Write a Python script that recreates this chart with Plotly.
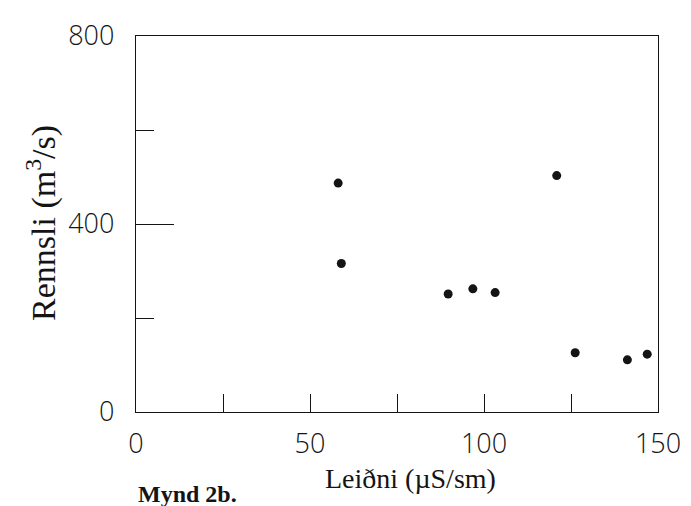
import plotly.graph_objects as go

# Data
leidni = [58.1, 59.0, 89.7, 96.8, 103.2, 120.9, 126.2, 141.2, 146.9]   # µS/sm
rennsli = [487, 316, 251, 262, 254, 503, 126, 111, 123]             # m3/s

x_tickvals = [0, 50, 100, 150]
x_ticktext = ["0", "50", "100", "150"]
y_tickvals = [0, 400, 800]
y_ticktext = ["0", "400", "800"]

x_title = "Leiðni (µS/sm)"
y_title = "Rennsli (m<sup>3</sup>/s)"
caption = "<b>Mynd 2b.</b>"

ink = "#141414"
tick_font = dict(family="Open Sans", size=27, color=ink, weight=300)

W, H = 691, 506
L, R, T, B = 128, 41, 28, 102
pw, ph = W - L - R, H - T - B

fig = go.Figure()
fig.add_trace(go.Scatter(
    x=leidni, y=rennsli, mode="markers",
    marker=dict(color=ink, size=9, line=dict(width=0)),
    showlegend=False,
))

fig.update_layout(
    width=W, height=H,
    margin=dict(l=L, r=R, t=T, b=B, autoexpand=False),
    paper_bgcolor="white", plot_bgcolor="white",
)

fig.update_xaxes(
    range=[0, 150], tickmode="array", tickvals=x_tickvals, ticktext=x_ticktext,
    ticks="inside", ticklen=18, tickwidth=1.2, tickcolor=ink,
    minor=dict(tickmode="array", tickvals=[25, 75, 125], ticks="inside",
               ticklen=18, tickwidth=1.2, tickcolor=ink),
    showline=True, linecolor=ink, linewidth=1.4, mirror=True,
    showgrid=False, zeroline=False, automargin=False,
    tickfont=tick_font, ticklabelstandoff=7,
)
fig.update_yaxes(
    range=[0, 800], tickmode="array", tickvals=y_tickvals, ticktext=y_ticktext,
    ticks="inside", ticklen=38, tickwidth=1.2, tickcolor=ink,
    minor=dict(tickmode="array", tickvals=[200, 600], ticks="inside",
               ticklen=18, tickwidth=1.2, tickcolor=ink),
    showline=True, linecolor=ink, linewidth=1.4, mirror=True,
    showgrid=False, zeroline=False, automargin=False,
    tickfont=tick_font, ticklabelstandoff=15,
)

def px_x(p):
    return (p - L) / pw

def px_y(p):
    return (H - B - p) / ph

# axis titles and caption
fig.add_annotation(
    text=x_title, xref="paper", yref="paper",
    x=px_x(402), y=px_y(470), xanchor="center", yanchor="middle", showarrow=False,
    font=dict(family="Liberation Serif", size=28, color=ink),
)
fig.add_annotation(
    text=y_title, xref="paper", yref="paper", textangle=-90,
    x=px_x(33), y=px_y(215), xanchor="center", yanchor="middle", showarrow=False,
    font=dict(family="Liberation Serif", size=34, color=ink),
)
fig.add_annotation(
    text=caption, xref="paper", yref="paper",
    x=px_x(128), y=px_y(486), xanchor="left", yanchor="middle", showarrow=False,
    font=dict(family="Liberation Serif", size=24, color=ink),
)

fig.write_html("out.html")
